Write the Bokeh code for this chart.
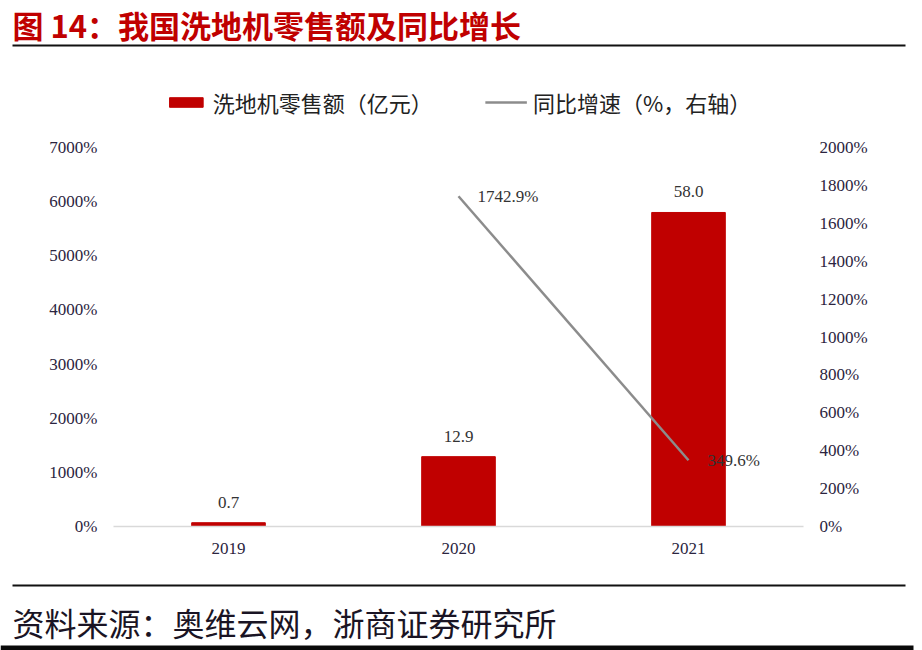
from bokeh.plotting import figure
from bokeh.models import (Range1d, LinearAxis, Legend, LegendItem, FactorRange,
                          ColumnDataSource, FixedTicker)
from bokeh.layouts import column
from bokeh.embed import file_html
from bokeh.resources import INLINE
from bokeh.core.properties import value

# ---- data ----
years = ["2019", "2020", "2021"]
sales = [0.7, 12.9, 58.0]
sales_labels = ["0.7", "12.9", "58.0"]
growth_years = ["2020", "2021"]
growth = [1742.9, 349.6]
growth_labels = ["1742.9%", "349.6%"]
left_ticks = [0, 10, 20, 30, 40, 50, 60, 70]
left_tick_labels = ["0%", "1000%", "2000%", "3000%", "4000%", "5000%", "6000%", "7000%"]
right_ticks = [0, 200, 400, 600, 800, 1000, 1200, 1400, 1600, 1800, 2000]
right_tick_labels = ["0%", "200%", "400%", "600%", "800%", "1000%", "1200%",
                     "1400%", "1600%", "1800%", "2000%"]
title_text = "图 14：我国洗地机零售额及同比增长"
source_text = "资料来源：奥维云网，浙商证券研究所"
legend_labels = ["洗地机零售额（亿元）", "同比增速（%，右轴）"]

W = 922
CJK = "Noto Sans CJK SC"
NUM = "Liberation Serif"
RED = "#c00000"
GREY = "#8c8c8c"
TXT = "#2b2440"


def strip(h):
    f = figure(width=W, height=h, x_range=Range1d(0, W), y_range=Range1d(0, h),
               min_border=0, x_axis_location=None, y_axis_location=None,
               output_backend="svg", toolbar_location=None)
    f.grid.visible = False
    f.outline_line_color = None
    f.frame_align = False
    return f


# ---- top strip: title + rule ----
TH = 60
top = strip(TH)
top.text(x=[12], y=[TH - 1], text=[title_text], text_font=value(CJK), text_font_style="bold",
         text_font_size="31px", text_color=RED, text_baseline="top", text_align="left")
top.segment(x0=[12], y0=[TH - 45], x1=[905], y1=[TH - 45], line_color="#111111", line_width=2)

# ---- main chart ----
MH, MB = 510, 44
AXIS_PX = 379            # pixel height spanned by the ticked part of the axes
frame_h = MH - MB
left_max = left_ticks[-1]
right_max = right_ticks[-1]

src = ColumnDataSource(dict(x=years, top=sales, lab=sales_labels))
gsrc = ColumnDataSource(dict(x=growth_years, y=growth, lab=growth_labels))

p = figure(width=W, height=MH, x_range=FactorRange(*years),
           y_range=Range1d(0, left_max * frame_h / AXIS_PX),
           min_border_left=113, min_border_right=119, min_border_top=0, min_border_bottom=MB,
           output_backend="svg", toolbar_location=None)
p.frame_align = False
p.extra_y_ranges = {"r": Range1d(0, right_max * frame_h / AXIS_PX)}
p.grid.visible = False
p.outline_line_color = None

bars = p.vbar(x="x", top="top", width=0.32, source=src, fill_color=RED, line_color=RED)
line = p.line(x="x", y="y", source=gsrc, y_range_name="r", line_color=GREY, line_width=2.5)

p.text(x="x", y="top", text="lab", source=src, text_align="center", text_baseline="bottom",
       y_offset=-15, text_font=value(NUM), text_font_size="17px", text_color="#333333")
p.text(x="x", y="y", text="lab", source=gsrc, y_range_name="r", text_align="left",
       text_baseline="middle", x_offset=19, text_font=value(NUM), text_font_size="17px",
       text_color="#333333")

ly = p.yaxis[0]
ly.ticker = FixedTicker(ticks=left_ticks)
ly.major_label_overrides = dict(zip(left_ticks, left_tick_labels))
raxis = LinearAxis(y_range_name="r", ticker=FixedTicker(ticks=right_ticks),
                   major_label_overrides=dict(zip(right_ticks, right_tick_labels)))
p.add_layout(raxis, "right")
for ax in (ly, raxis):
    ax.axis_line_color = None
    ax.major_tick_line_color = None
    ax.minor_tick_line_color = None
    ax.major_label_standoff = 10
    ax.major_label_text_font = NUM
    ax.major_label_text_font_size = "17px"
    ax.major_label_text_color = TXT

xa = p.xaxis[0]
xa.axis_line_color = "#d9d9d9"
xa.axis_line_width = 1.5
xa.major_tick_line_color = None
xa.minor_tick_line_color = None
xa.major_label_standoff = 10
xa.major_label_text_font = NUM
xa.major_label_text_font_size = "17px"
xa.major_label_text_color = TXT

legend = Legend(items=[LegendItem(label=legend_labels[0], renderers=[bars]),
                       LegendItem(label=legend_labels[1], renderers=[line])],
                orientation="horizontal", location="top_center", border_line_color=None,
                background_fill_alpha=0, label_text_font=CJK, label_text_font_size="22px",
                label_text_color="#222222", glyph_width=42, glyph_height=12, spacing=52,
                label_standoff=6, padding=0, margin=26)
p.add_layout(legend, "center")

# ---- bottom strip: rule + source + bottom edge ----
BH = 80
bot = strip(BH)
bot.segment(x0=[12], y0=[BH - 15], x1=[905], y1=[BH - 15], line_color="#111111", line_width=2)
bot.text(x=[12], y=[BH - 51], text=[source_text], text_font=value(CJK), text_font_size="32px",
         text_color="#1a1424", text_baseline="middle", text_align="left")
bot.segment(x0=[0], y0=[2.5], x1=[913], y1=[2.5], line_color="#0a0a0a", line_width=5)

layout = column(top, p, bot, spacing=0)
open("out.html", "w").write(file_html(layout, INLINE))
